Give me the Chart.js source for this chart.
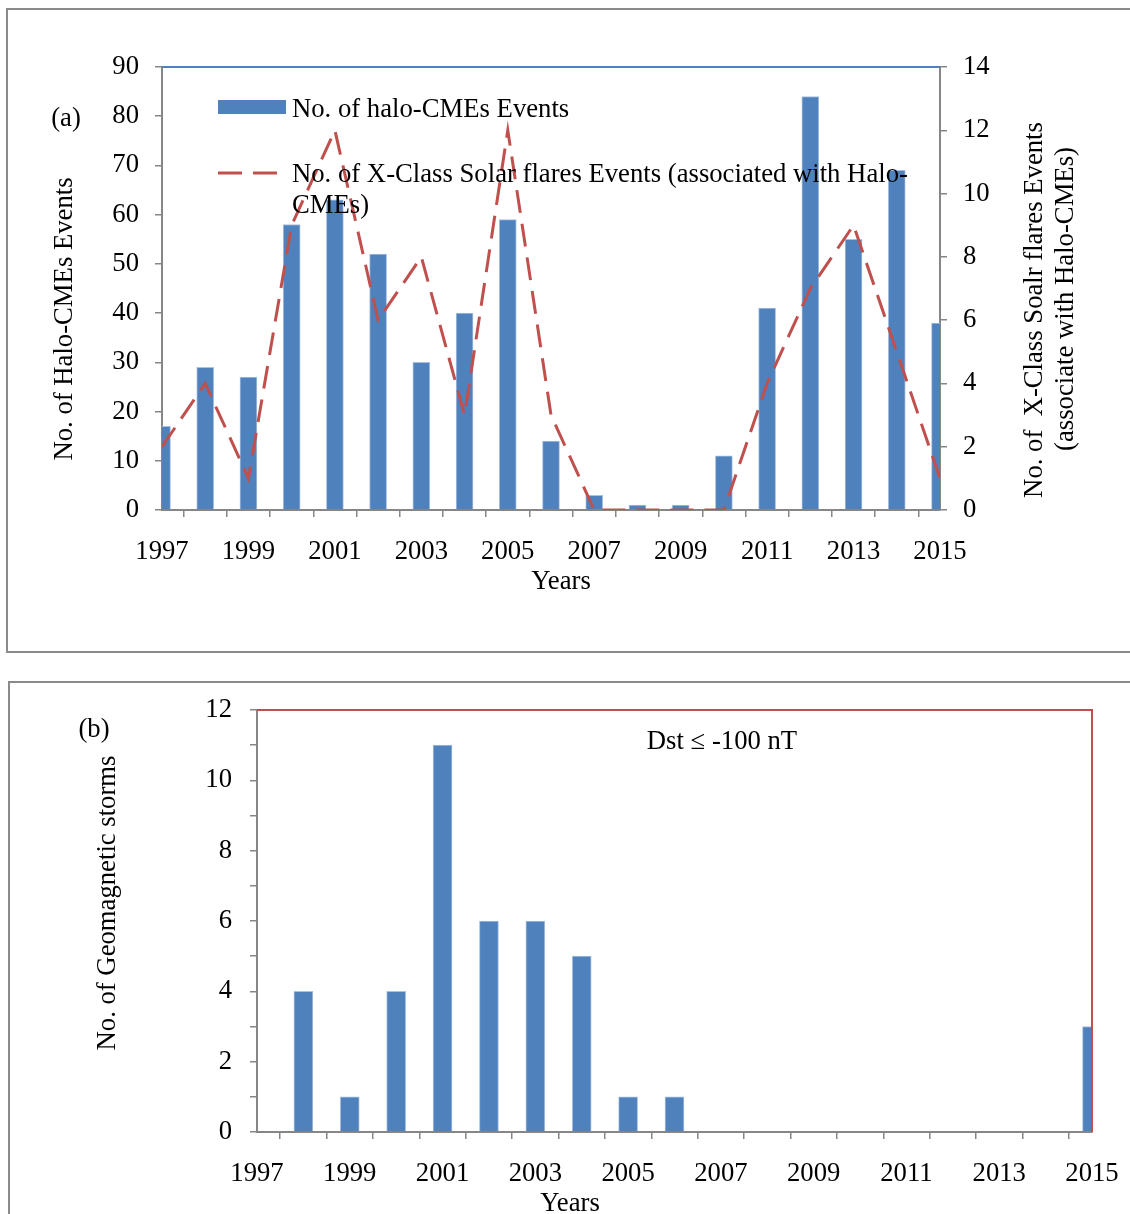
<!DOCTYPE html>
<html>
<head>
<meta charset="utf-8">
<script src="https://cdn.jsdelivr.net/npm/chart.js@4.4.1/dist/chart.umd.min.js"></script>
<style>
  html, body { margin: 0; padding: 0; background: #fff; overflow: hidden; }
  body { width: 1130px; height: 1214px; position: relative; }
  .frame { position: absolute; border: 2px solid #8a8a8a; box-sizing: border-box; }
  #frame-a { left: 6px; top: 8px; width: 1150px; height: 645px; }
  #frame-b { left: 8px; top: 681px; width: 1150px; height: 600px; }
  canvas { position: absolute; left: 0; }
  #chart-a { top: 0; }
  #chart-b { top: 660px; }
</style>
</head>
<body>
<div class="frame" id="frame-a"></div>
<div class="frame" id="frame-b"></div>
<canvas id="chart-a" width="1130" height="660"></canvas>
<canvas id="chart-b" width="1130" height="554"></canvas>
<script>
// Halo-CMEs, X-class flares and intense geomagnetic storms, 1997-2015.

const YEARS = [
  1997, 1998, 1999, 2000, 2001, 2002, 2003, 2004, 2005, 2006,
  2007, 2008, 2009, 2010, 2011, 2012, 2013, 2014, 2015,
];
const YEAR_TICK_LABELS = [1997, 1999, 2001, 2003, 2005, 2007, 2009, 2011, 2013, 2015];

const HALO_CMES = [17, 29, 27, 58, 63, 52, 30, 40, 59, 14, 3, 1, 1, 11, 41, 84, 55, 69, 38];
const XCLASS_FLARES = [2, 4, 1, 9, 12, 6, 8, 3, 12, 3, 0, 0, 0, 0, 4, 7, 9, 5, 1];
const GEOMAG_STORMS = [0, 4, 1, 4, 11, 6, 6, 5, 1, 1, 0, 0, 0, 0, 0, 0, 0, 0, 3];

const BAR_BLUE = "#4F81BD";
const LINE_RED = "#C0504D";
const AXIS_GREY = "#868686";
const FONT_FAMILY = "'Liberation Serif', 'Times New Roman', serif";
const FONT_SIZE = 26.7;

Chart.defaults.font.family = FONT_FAMILY;
Chart.defaults.font.size = FONT_SIZE;
Chart.defaults.color = "#000";

function toPoints(values) {
  return YEARS.map((year, i) => ({ x: year, y: values[i] }));
}

function yearTick(value) {
  return YEAR_TICK_LABELS.includes(value) ? String(value) : "";
}

function axisStyle(extra) {
  return Object.assign(
    {
      border: { display: true, color: AXIS_GREY, width: 2 },
      grid: {
        display: true,
        drawOnChartArea: false,
        drawTicks: true,
        tickLength: 7,
        color: AXIS_GREY,
        lineWidth: 1.5,
      },
    },
    extra
  );
}

function yearAxis(height, padding) {
  return axisStyle({
    type: "linear",
    min: 1997,
    max: 2015,
    offset: false,
    ticks: {
      stepSize: 1,
      autoSkip: false,
      maxRotation: 0,
      padding,
      callback: yearTick,
    },
    afterFit: (scale) => {
      // fixed box, and no extra room reserved for the end labels
      scale.height = height;
      scale.paddingLeft = 0;
      scale.paddingRight = 0;
    },
  });
}

function drawText(ctx, text, x, y, rotate, align) {
  ctx.save();
  ctx.translate(x, y);
  if (rotate) {
    ctx.rotate(-Math.PI / 2);
  }
  ctx.textAlign = align || "center";
  ctx.textBaseline = "middle";
  ctx.fillText(text, 0, 0);
  ctx.restore();
}

const panelAOverlay = {
  id: "panelAOverlay",
  afterDraw(chart) {
    const { ctx, chartArea } = chart;
    ctx.save();

    // plot area top edge
    ctx.strokeStyle = BAR_BLUE;
    ctx.lineWidth = 2;
    ctx.beginPath();
    ctx.moveTo(chartArea.left, chartArea.top);
    ctx.lineTo(chartArea.right, chartArea.top);
    ctx.stroke();

    // legend, drawn over the plot like the original
    ctx.fillStyle = BAR_BLUE;
    ctx.fillRect(218, 100, 68, 14);
    ctx.strokeStyle = LINE_RED;
    ctx.lineWidth = 3;
    ctx.setLineDash([24, 11]);
    ctx.beginPath();
    ctx.moveTo(218, 173);
    ctx.lineTo(278, 173);
    ctx.stroke();
    ctx.setLineDash([]);

    ctx.fillStyle = "#000";
    ctx.font = `${FONT_SIZE}px ${FONT_FAMILY}`;
    drawText(ctx, "No. of halo-CMEs Events", 292, 110, false, "left");
    drawText(ctx, "No. of X-Class Solar flares Events (associated with Halo-", 292, 175, false, "left");
    drawText(ctx, "CMEs)", 292, 206, false, "left");

    drawText(ctx, "(a)", 66, 119);
    drawText(ctx, "No. of Halo-CMEs Events", 65, 319, true);
    drawText(ctx, "No. of  X-Class Soalr flares Events", 1035, 310, true);
    drawText(ctx, "(associate with Halo-CMEs)", 1066, 299, true);
    drawText(ctx, "Years", 561, 582);
    ctx.restore();
  },
};

const panelBOverlay = {
  id: "panelBOverlay",
  afterDraw(chart) {
    const { ctx, chartArea } = chart;
    ctx.save();

    ctx.strokeStyle = LINE_RED;
    ctx.lineWidth = 2;
    ctx.beginPath();
    ctx.moveTo(chartArea.left, chartArea.top);
    ctx.lineTo(chartArea.right, chartArea.top);
    ctx.lineTo(chartArea.right, chartArea.bottom);
    ctx.stroke();

    ctx.fillStyle = "#000";
    ctx.font = `${FONT_SIZE}px ${FONT_FAMILY}`;
    drawText(ctx, "(b)", 94, 70);
    drawText(ctx, "No. of Geomagnetic storms", 108, 243, true);
    drawText(ctx, "Dst \u2264 -100 nT", 722, 82);
    drawText(ctx, "Years", 570, 544);
    ctx.restore();
  },
};

new Chart(document.getElementById("chart-a"), {
  type: "bar",
  data: {
    datasets: [
      {
        type: "line",
        label: "No. of X-Class Solar flares Events (associated with Halo-CMEs)",
        data: toPoints(XCLASS_FLARES),
        yAxisID: "y1",
        borderColor: LINE_RED,
        borderWidth: 3,
        borderDash: [23, 11],
        pointRadius: 0,
        tension: 0,
        fill: false,
        order: 0,
      },
      {
        label: "No. of halo-CMEs Events",
        data: toPoints(HALO_CMES),
        yAxisID: "y",
        backgroundColor: BAR_BLUE,
        borderColor: "#A9C0DF",
        borderWidth: 1,
        borderSkipped: "start",
        barThickness: 17,
        clip: 0,
        order: 1,
      },
    ],
  },
  options: {
    responsive: false,
    animation: false,
    events: [],
    layout: { padding: { top: 67, left: 0, right: 0, bottom: 0 } },
    plugins: { legend: { display: false }, tooltip: { enabled: false } },
    scales: {
      x: yearAxis(150, 19),
      y: axisStyle({
        position: "left",
        min: 0,
        max: 90,
        ticks: {
          stepSize: 5,
          padding: 16,
          callback: (value) => (value % 10 === 0 ? String(value) : ""),
        },
        afterFit: (scale) => {
          scale.width = 162;
        },
      }),
      y1: axisStyle({
        position: "right",
        min: 0,
        max: 14,
        ticks: {
          stepSize: 1,
          padding: 16,
          callback: (value) => (value % 2 === 0 ? String(value) : ""),
        },
        afterFit: (scale) => {
          scale.width = 190;
        },
      }),
    },
  },
  plugins: [panelAOverlay],
});

new Chart(document.getElementById("chart-b"), {
  type: "bar",
  data: {
    datasets: [
      {
        label: "No. of Geomagnetic storms",
        data: toPoints(GEOMAG_STORMS),
        backgroundColor: BAR_BLUE,
        borderColor: "#A9C0DF",
        borderWidth: 1,
        borderSkipped: "start",
        barThickness: 19,
        clip: 0,
      },
    ],
  },
  options: {
    responsive: false,
    animation: false,
    events: [],
    layout: { padding: { top: 50, left: 0, right: 38, bottom: 0 } },
    plugins: { legend: { display: false }, tooltip: { enabled: false } },
    scales: {
      x: yearAxis(82, 19),
      y: axisStyle({
        position: "left",
        min: 0,
        max: 12,
        ticks: {
          stepSize: 1,
          padding: 18,
          callback: (value) => (value % 2 === 0 ? String(value) : ""),
        },
        afterFit: (scale) => {
          scale.width = 257;
        },
      }),
    },
  },
  plugins: [panelBOverlay],
});
</script>
</body>
</html>
